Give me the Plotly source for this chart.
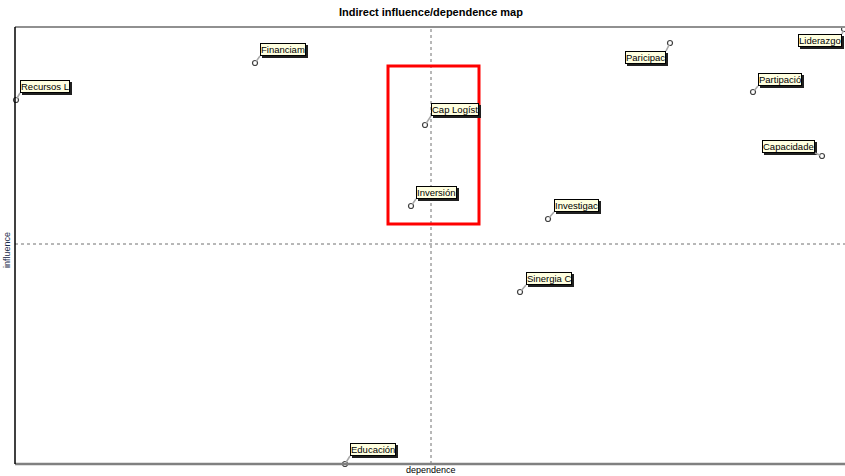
import plotly.graph_objects as go

# ---- data ----
names = ["Recursos L", "Financiam", "Cap Logíst", "Inversión", "Paricipac", "Liderazgo",
         "Partipació", "Capacidade", "Investigac", "Sinergia C", "Educación"]
dependence = [1, 240, 410, 396, 655, 829, 738, 807, 533, 505, 330]
influence = [364, 401, 339, 258, 421, 435, 372, 308, 245, 172, 0]
mean_dependence = 416
mean_influence = 220
highlight_x = [373, 464]
highlight_y = [240, 398]

# label placement (pixel offsets of the label box from its point) -- style only
label_offsets = {
    "Recursos L": (4, -7, "left", "bottom"),
    "Financiam": (5, -7, "left", "bottom"),
    "Cap Logíst": (6, -9, "left", "bottom"),
    "Inversión": (5, -7, "left", "bottom"),
    "Paricipac": (-4, 8, "right", "top"),
    "Liderazgo": (-2, 5, "right", "top"),
    "Partipació": (5, -6, "left", "bottom"),
    "Capacidade": (-7, -3, "right", "bottom"),
    "Investigac": (6, -7, "left", "bottom"),
    "Sinergia C": (6, -7, "left", "bottom"),
    "Educación": (5, -8, "left", "bottom"),
}

LABEL_FONT = "Liberation Sans, Arial"
LABEL_SIZE = 9.5

fig = go.Figure()
fig.add_trace(go.Scatter(
    x=dependence, y=influence, mode="markers",
    marker=dict(symbol="circle-open", size=5, color="#404040", line=dict(width=1.2)),
    hovertext=names, hoverinfo="text", cliponaxis=False, showlegend=False,
))

annotations = []
for n, x, y in zip(names, dependence, influence):
    ax, ay, xa, ya = label_offsets[n]
    # drop shadow behind the label box
    annotations.append(dict(
        x=x, y=y, xref="x", yref="y", ax=ax + 2, ay=ay + 2, showarrow=True,
        arrowcolor="rgba(0,0,0,0)", arrowwidth=0.1, arrowhead=0,
        text=n, font=dict(family=LABEL_FONT, size=LABEL_SIZE, color="#202020"),
        bgcolor="#202020", bordercolor="#202020", borderwidth=1, borderpad=0,
        xanchor=xa, yanchor=ya,
    ))
    annotations.append(dict(
        x=x, y=y, xref="x", yref="y", ax=ax, ay=ay, showarrow=True,
        arrowcolor="#a8a8a8", arrowwidth=1.6, arrowhead=0, standoff=2,
        text=n, font=dict(family=LABEL_FONT, size=LABEL_SIZE, color="#000000"),
        bgcolor="#ffffe0", bordercolor="#000000", borderwidth=1, borderpad=0,
        xanchor=xa, yanchor=ya,
    ))

annotations.append(dict(
    text="dependence", x=mean_dependence, xref="x", y=0, yref="paper", yshift=-6,
    showarrow=False, xanchor="center", yanchor="middle",
    font=dict(family=LABEL_FONT, size=9, color="#000000")))
annotations.append(dict(
    text="influence", x=0, xref="paper", xshift=-8, y=mean_influence - 6, yref="y",
    showarrow=False, textangle=-90, xanchor="center", yanchor="middle",
    font=dict(family=LABEL_FONT, size=9, color="#1a2a4a")))

shapes = [
    dict(type="line", xref="x", yref="paper", x0=mean_dependence, x1=mean_dependence, y0=0, y1=1,
         line=dict(color="#707070", width=1, dash="dot")),
    dict(type="line", xref="paper", yref="y", x0=0, x1=1, y0=mean_influence, y1=mean_influence,
         line=dict(color="#707070", width=1, dash="dot")),
    dict(type="line", xref="paper", yref="paper", x0=0, x1=1, y0=1, y1=1,
         line=dict(color="#909090", width=2)),
    dict(type="line", xref="paper", yref="paper", x0=0, x1=1, y0=0, y1=0,
         line=dict(color="#808080", width=2.5)),
    dict(type="line", xref="paper", yref="paper", x0=0, x1=0, y0=0, y1=1,
         line=dict(color="#000000", width=1.5)),
    dict(type="rect", xref="x", yref="y", x0=highlight_x[0], x1=highlight_x[1],
         y0=highlight_y[0], y1=highlight_y[1], line=dict(color="#ff0000", width=3)),
]

fig.update_layout(
    width=845, height=476,
    margin=dict(l=15, r=0, t=27, b=12),
    paper_bgcolor="white", plot_bgcolor="white",
    title=dict(text="<b>Indirect influence/dependence map</b>", x=0.51, xanchor="center",
               y=0.975, yanchor="middle",
               font=dict(family="Liberation Sans Narrow, Arial Narrow, Liberation Sans", size=11, color="#000000")),
    xaxis=dict(range=[0, 830], showgrid=False, zeroline=False, showticklabels=False, ticks="",
               showline=False, fixedrange=True),
    yaxis=dict(range=[0, 437], showgrid=False, zeroline=False, showticklabels=False, ticks="",
               showline=False, fixedrange=True),
    annotations=annotations, shapes=shapes,
)

fig.write_html("out.html", config={"displayModeBar": False},
               post_script="document.body.style.margin='0';document.body.style.overflow='hidden';")
